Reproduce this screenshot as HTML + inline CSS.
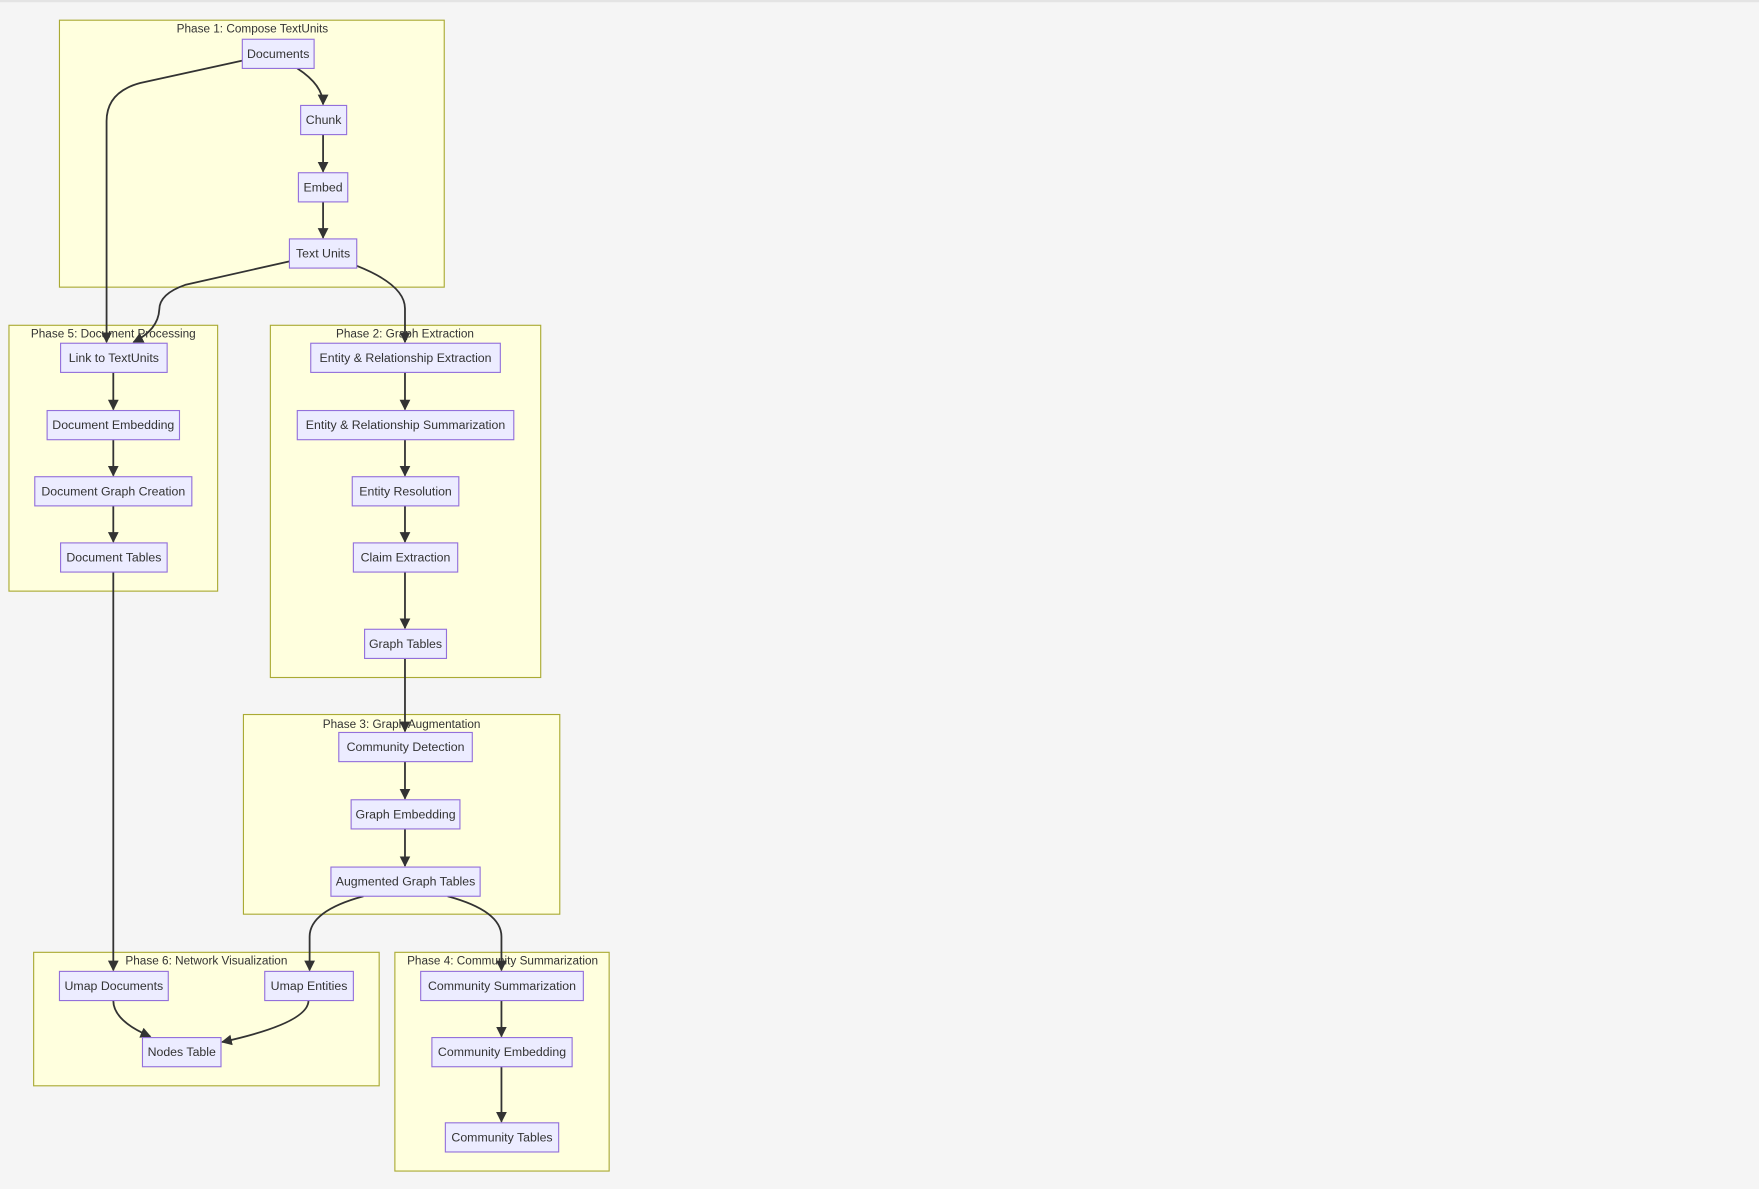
<!DOCTYPE html>
<html><head><meta charset="utf-8"><style>
html,body{margin:0;padding:0;background:#f5f5f5;width:1759px;height:1189px;overflow:hidden}
svg{display:block}
text{font-family:"Liberation Sans","DejaVu Sans",sans-serif;fill:#333}
.c{fill:#ffffde;stroke:#aaaa33;stroke-width:1}
.n{fill:#ececff;stroke:#9370db;stroke-width:1}
.e{fill:none;stroke:#333;stroke-width:1.6}
.t{font-size:10.5px;text-anchor:middle}
.l{font-size:11px;text-anchor:middle;dominant-baseline:central}
</style></head><body>
<svg width="1759" height="1189" viewBox="0 0 1568 1060" preserveAspectRatio="none">
<defs><marker id="a" viewBox="0 0 10 10" refX="9" refY="5" markerWidth="6" markerHeight="6" orient="auto"><path d="M0,0L10,5L0,10z" fill="#333"/></marker></defs>
<rect x="0" y="0" width="1568" height="2" fill="#e4e4e4"/>
<rect class="c" x="53" y="18" width="343" height="238"/><text class="t" x="225" y="29">Phase 1: Compose TextUnits</text>
<rect class="c" x="8" y="290" width="186" height="237"/><text class="t" x="101" y="301">Phase 5: Document Processing</text>
<rect class="c" x="241" y="290" width="241" height="314"/><text class="t" x="361" y="301">Phase 2: Graph Extraction</text>
<rect class="c" x="217" y="637" width="282" height="178"/><text class="t" x="358" y="649">Phase 3: Graph Augmentation</text>
<rect class="c" x="30" y="849" width="308" height="119"/><text class="t" x="184" y="860">Phase 6: Network Visualization</text>
<rect class="c" x="352" y="849" width="191" height="195"/><text class="t" x="448" y="860">Phase 4: Community Summarization</text>
<path class="e" d="M216,54 L125,74 Q95,82 95,108 L95,305" marker-end="url(#a)"/>
<path class="e" d="M265,61 Q288,76 288,93" marker-end="url(#a)"/>
<path class="e" d="M288,120 L288,153" marker-end="url(#a)"/>
<path class="e" d="M288,180 L288,212" marker-end="url(#a)"/>
<path class="e" d="M258,233 L165,254 Q142,262 142,276 Q141,294 119,305" marker-end="url(#a)"/>
<path class="e" d="M318,237 Q361,254 361,275 L361,305" marker-end="url(#a)"/>
<path class="e" d="M101,332 L101,365" marker-end="url(#a)"/>
<path class="e" d="M101,392 L101,424" marker-end="url(#a)"/>
<path class="e" d="M101,451 L101,483" marker-end="url(#a)"/>
<path class="e" d="M361,332 L361,365" marker-end="url(#a)"/>
<path class="e" d="M361,392 L361,424" marker-end="url(#a)"/>
<path class="e" d="M361,451 L361,483" marker-end="url(#a)"/>
<path class="e" d="M361,510 L361,560" marker-end="url(#a)"/>
<path class="e" d="M361,587 L361,652" marker-end="url(#a)"/>
<path class="e" d="M361,679 L361,712" marker-end="url(#a)"/>
<path class="e" d="M361,739 L361,772" marker-end="url(#a)"/>
<path class="e" d="M101,510 L101,865" marker-end="url(#a)"/>
<path class="e" d="M324,799 Q276,812 276,835 L276,865" marker-end="url(#a)"/>
<path class="e" d="M399,799 Q447,812 447,835 L447,865" marker-end="url(#a)"/>
<path class="e" d="M101,892 Q101,910 134,924" marker-end="url(#a)"/>
<path class="e" d="M275,892 Q275,912 198,929" marker-end="url(#a)"/>
<path class="e" d="M447,892 L447,924" marker-end="url(#a)"/>
<path class="e" d="M447,951 L447,1000" marker-end="url(#a)"/>
<rect class="n" x="216" y="35" width="64" height="26"/><text class="l" x="248" y="48">Documents</text>
<rect class="n" x="268" y="94" width="41" height="26"/><text class="l" x="288.5" y="107">Chunk</text>
<rect class="n" x="266" y="154" width="44" height="26"/><text class="l" x="288" y="167">Embed</text>
<rect class="n" x="258" y="213" width="60" height="26"/><text class="l" x="288" y="226">Text Units</text>
<rect class="n" x="54" y="306" width="95" height="26"/><text class="l" x="101.5" y="319">Link to TextUnits</text>
<rect class="n" x="42" y="366" width="118" height="26"/><text class="l" x="101" y="379">Document Embedding</text>
<rect class="n" x="31" y="425" width="140" height="26"/><text class="l" x="101" y="438">Document Graph Creation</text>
<rect class="n" x="54" y="484" width="95" height="26"/><text class="l" x="101.5" y="497">Document Tables</text>
<rect class="n" x="277" y="306" width="169" height="26"/><text class="l" x="361.5" y="319">Entity &amp; Relationship Extraction</text>
<rect class="n" x="265" y="366" width="193" height="26"/><text class="l" x="361.5" y="379">Entity &amp; Relationship Summarization</text>
<rect class="n" x="314" y="425" width="95" height="26"/><text class="l" x="361.5" y="438">Entity Resolution</text>
<rect class="n" x="315" y="484" width="93" height="26"/><text class="l" x="361.5" y="497">Claim Extraction</text>
<rect class="n" x="325" y="561" width="73" height="26"/><text class="l" x="361.5" y="574">Graph Tables</text>
<rect class="n" x="302" y="653" width="119" height="26"/><text class="l" x="361.5" y="666">Community Detection</text>
<rect class="n" x="313" y="713" width="97" height="26"/><text class="l" x="361.5" y="726">Graph Embedding</text>
<rect class="n" x="295" y="773" width="133" height="26"/><text class="l" x="361.5" y="786">Augmented Graph Tables</text>
<rect class="n" x="53" y="866" width="97" height="26"/><text class="l" x="101.5" y="879">Umap Documents</text>
<rect class="n" x="236" y="866" width="79" height="26"/><text class="l" x="275.5" y="879">Umap Entities</text>
<rect class="n" x="127" y="925" width="70" height="26"/><text class="l" x="162" y="938">Nodes Table</text>
<rect class="n" x="375" y="866" width="145" height="26"/><text class="l" x="447.5" y="879">Community Summarization</text>
<rect class="n" x="385" y="925" width="125" height="26"/><text class="l" x="447.5" y="938">Community Embedding</text>
<rect class="n" x="397" y="1001" width="101" height="26"/><text class="l" x="447.5" y="1014">Community Tables</text>
</svg>
</body></html>
